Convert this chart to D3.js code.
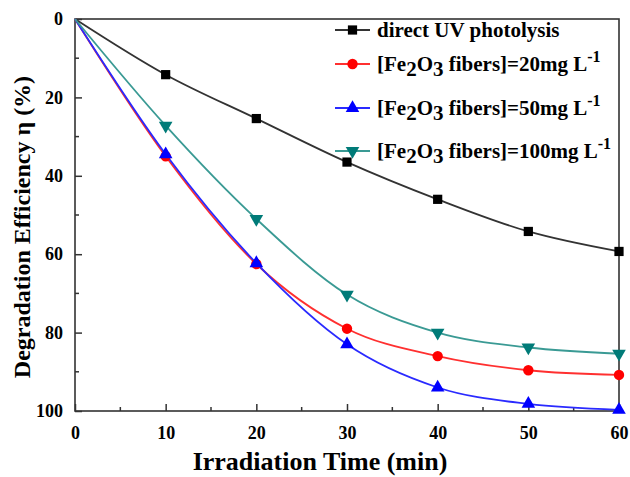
<!DOCTYPE html>
<html>
<head>
<meta charset="utf-8">
<script src="https://cdn.jsdelivr.net/npm/d3@7"></script>
<style>
  body { margin: 0; background: #fff; }
  text { font-family: "Liberation Serif", "Times New Roman", serif; font-weight: bold; }
</style>
</head>
<body>
<div id="chart"></div>
<script>
// Data
const times = [0, 10, 20, 30, 40, 50, 60];
const uvOnly = [0, 14.2, 25.4, 36.5, 46.0, 54.2, 59.3];
const fe20 = [0, 35.0, 62.5, 79.0, 86.0, 89.6, 90.8];
const fe50 = [0, 34.5, 62.3, 83.0, 94.0, 98.2, 99.7];
const fe100 = [0, 27.2, 51.0, 70.3, 80.0, 83.8, 85.4];
const xTicks = [0, 10, 20, 30, 40, 50, 60];
const yTicks = [0, 20, 40, 60, 80, 100];

const series = [
    {name: "uv", values: uvOnly, color: "#000", line: "#333", symbol: d3.symbolSquare, size: 85, rot: 0},
    {name: "20", values: fe20, color: "#ff0000", line: "#ff3030", symbol: d3.symbolCircle, size: 85, rot: 0},
    {name: "50", values: fe50, color: "#0000ff", line: "#2a2aff", symbol: d3.symbolTriangle, size: 80, rot: 0},
    {name: "100", values: fe100, color: "#007b78", line: "#3a9a94", symbol: d3.symbolTriangle, size: 80, rot: 180}
];

const W = 630, H = 477;
const margin = {top: 19, right: 11, bottom: 66, left: 75};
const width = W - margin.left - margin.right;
const height = H - margin.top - margin.bottom;

const svg = d3.select("#chart").append("svg")
    .attr("width", W).attr("height", H);

const g = svg.append("g")
    .attr("transform", `translate(${margin.left},${margin.top})`);

const x = d3.scaleLinear().domain([0, 60]).range([0, width]);
const y = d3.scaleLinear().domain([0, 100]).range([0, height]);

// frame
g.append("rect")
    .attr("width", width).attr("height", height)
    .attr("fill", "none").attr("stroke", "#333").attr("stroke-width", 1.6);

// x axis, ticks pointing inward
const xAxis = g.append("g").attr("transform", `translate(0,${height})`)
    .call(d3.axisBottom(x).tickValues(xTicks).tickSize(-7).tickPadding(15).tickFormat(d3.format("d")));
xAxis.select(".domain").remove();
xAxis.selectAll("line").attr("stroke", "#333").attr("stroke-width", 1.5);
xAxis.selectAll("text").style("font-size", "18px").attr("fill", "#000");
xAxis.append("g").selectAll("line")
    .data(d3.range(5, 60, 10)).enter().append("line")
    .attr("x1", d => x(d)).attr("x2", d => x(d))
    .attr("y1", 0).attr("y2", -4)
    .attr("stroke", "#333").attr("stroke-width", 1.5);

// y axis
const yAxis = g.append("g")
    .call(d3.axisLeft(y).tickValues(yTicks).tickSize(-7).tickPadding(12).tickFormat(d3.format("d")));
yAxis.select(".domain").remove();
yAxis.selectAll("line").attr("stroke", "#333").attr("stroke-width", 1.5);
yAxis.selectAll("text").style("font-size", "18px").attr("fill", "#000");
yAxis.append("g").selectAll("line")
    .data(d3.range(10, 100, 20)).enter().append("line")
    .attr("y1", d => y(d)).attr("y2", d => y(d))
    .attr("x1", 0).attr("x2", 4)
    .attr("stroke", "#333").attr("stroke-width", 1.5);

// axis titles
svg.append("text")
    .attr("x", 320).attr("y", 470)
    .attr("text-anchor", "middle")
    .style("font-size", "26px")
    .text("Irradiation Time (min)");

svg.append("text")
    .attr("transform", `translate(30,227) rotate(-90)`)
    .attr("text-anchor", "middle")
    .style("font-size", "24px")
    .text("Degradation Efficiency  η (%)");

// curves
const line = d3.line()
    .x((d, i) => x(times[i]))
    .y(d => y(d))
    .curve(d3.curveMonotoneX);

series.forEach(s => {
    g.append("path")
        .datum(s.values)
        .attr("d", line)
        .attr("fill", "none")
        .attr("stroke", s.line)
        .attr("stroke-width", 1.8);
});

series.forEach(s => {
    g.selectAll(null)
        .data(s.values.slice(1))
        .enter().append("path")
        .attr("d", d3.symbol().type(s.symbol).size(s.size))
        .attr("transform", (d, i) => `translate(${x(times[i + 1])},${y(d)}) rotate(${s.rot})`)
        .attr("fill", s.color);
});

// legend
const legend = svg.append("g").attr("transform", "translate(335,0)");
const rowsY = [30, 64, 108, 151];
series.forEach((s, i) => {
    const row = legend.append("g").attr("transform", `translate(0,${rowsY[i]})`);
    row.append("line").attr("x1", 0).attr("x2", 35).attr("y1", 0).attr("y2", 0)
        .attr("stroke", s.line).attr("stroke-width", 1.8);
    row.append("path")
        .attr("d", d3.symbol().type(s.symbol).size(s.size))
        .attr("transform", `translate(17.5,0) rotate(${s.rot})`)
        .attr("fill", s.color);
    const t = row.append("text").attr("x", 42).attr("y", 7).style("font-size", "21px");
    if (s.name === "uv") {
        t.text("direct UV photolysis");
    } else {
        t.append("tspan").text("[Fe");
        t.append("tspan").attr("dy", 5).text("2");
        t.append("tspan").attr("dy", -5).text("O");
        t.append("tspan").attr("dy", 5).text("3");
        t.append("tspan").attr("dy", -5).text(` fibers]=${s.name}mg L`);
        t.append("tspan").attr("dy", -9).style("font-size", "16px").text("-1");
    }
});
</script>
</body>
</html>
